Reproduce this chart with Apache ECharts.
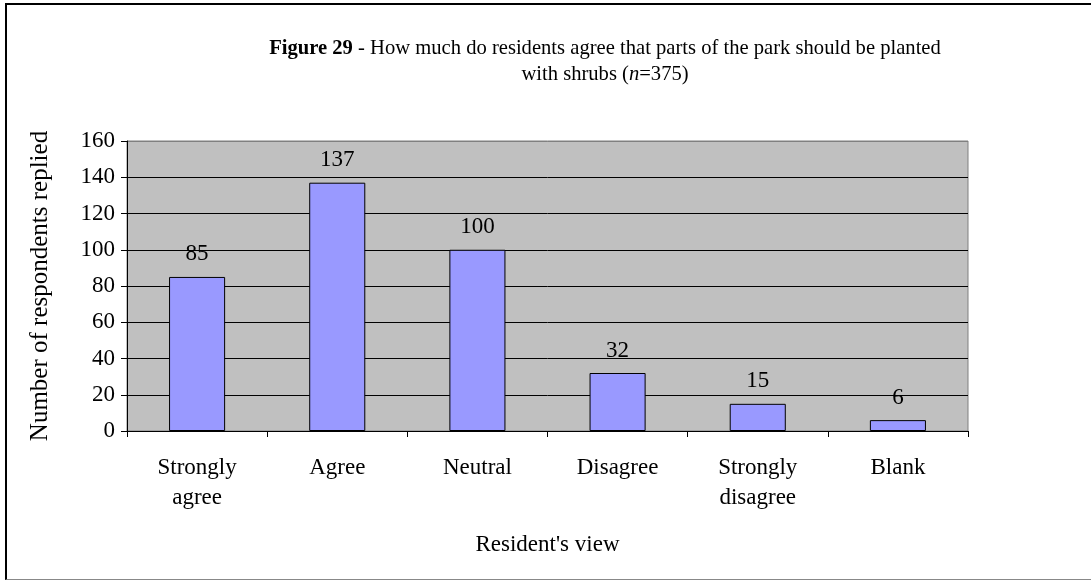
<!DOCTYPE html>
<html>
<head>
<meta charset="utf-8">
<script src="https://cdn.jsdelivr.net/npm/echarts@6/dist/echarts.min.js"></script>
<style>
html,body{margin:0;padding:0;background:#fff;}
#wrap{position:relative;width:1091px;height:580px;overflow:hidden;}
#frame{position:absolute;left:5px;top:3px;width:1100px;height:574px;border-left:2px solid #000;border-top:2px solid #000;border-bottom:1px solid #888;}
#chart{position:absolute;left:0;top:0;width:1091px;height:580px;}
</style>
</head>
<body>
<div id="wrap"><div id="frame"></div><div id="chart"></div></div>
<script>
const categories = ['Strongly\nagree', 'Agree', 'Neutral', 'Disagree', 'Strongly\ndisagree', 'Blank'];
const values = [85, 137, 100, 32, 15, 6];
const yTicks = [0, 20, 40, 60, 80, 100, 120, 140, 160];

const FONT = '"Liberation Serif", "Times New Roman", serif';
const chart = echarts.init(document.getElementById('chart'), null, {renderer: 'canvas'});
chart.setOption({
  backgroundColor: 'transparent',
  animation: false,
  textStyle: {fontFamily: FONT, color: '#000'},
  title: {
    left: 600, top: 31, textAlign: 'center',
    text: '{b|Figure 29} - How much do residents agree that parts of the park should be planted\nwith shrubs ({i|n}=375)',
    textStyle: {
      fontFamily: FONT, fontSize: 20.6, fontWeight: 'normal', color: '#000', lineHeight: 26,
      rich: {
        b: {fontFamily: FONT, fontSize: 20.6, fontWeight: 'bold', color: '#000', lineHeight: 26},
        i: {fontFamily: FONT, fontSize: 20.6, fontStyle: 'italic', color: '#000', lineHeight: 26}
      }
    }
  },
  grid: {
    left: 127, right: 123, top: 141, bottom: 149,
    show: true, backgroundColor: '#c0c0c0', borderColor: '#808080', borderWidth: 1,
    containLabel: false
  },
  xAxis: {
    type: 'category',
    data: categories,
    name: "Resident's view",
    nameLocation: 'middle',
    nameGap: 102,
    nameTextStyle: {fontFamily: FONT, fontSize: 23, color: '#000'},
    axisLine: {lineStyle: {color: '#000', width: 1}},
    axisTick: {show: true, length: 6, lineStyle: {color: '#000'}},
    axisLabel: {fontFamily: FONT, fontSize: 23, color: '#000', margin: 22, lineHeight: 30, interval: 0},
    splitLine: {show: false}
  },
  yAxis: {
    type: 'value',
    min: 0, max: 160, interval: 20,
    name: 'Number of respondents replied',
    nameLocation: 'middle',
    nameGap: 74,
    nameTextStyle: {fontFamily: FONT, fontSize: 25, color: '#000'},
    axisLine: {show: true, lineStyle: {color: '#000', width: 1}},
    axisTick: {show: true, length: 6, lineStyle: {color: '#000'}},
    axisLabel: {fontFamily: FONT, fontSize: 23, color: '#000', margin: 12,
      formatter: function (v) { return yTicks.indexOf(v) >= 0 ? String(v) : ''; }},
    splitLine: {show: true, lineStyle: {color: ['#000','#000','#000','#000','#000','#000','#000','#000','#808080'], width: 1}}
  },
  series: [{
    type: 'bar',
    data: values,
    barWidth: '40%',
    itemStyle: {color: '#9999ff', borderColor: '#000', borderWidth: 1},
    label: {show: true, position: 'top', distance: 11, fontFamily: FONT, fontSize: 23, color: '#000'}
  }]
});
</script>
</body>
</html>
